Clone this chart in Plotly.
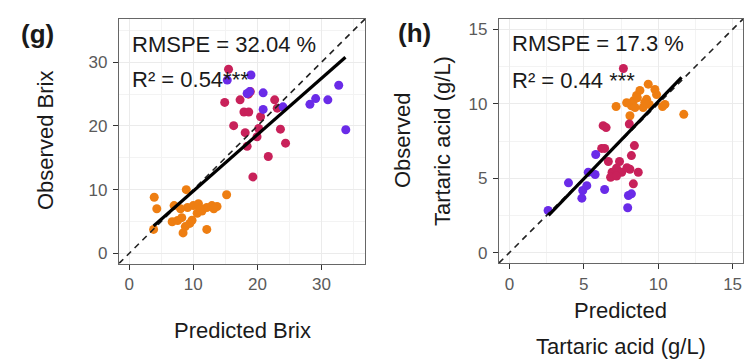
import plotly.graph_objects as go

W, H = 744, 360

# ---------------- Panel (g): Brix ----------------
g_orange_x = [3.8, 4.3, 3.9, 7.0, 8.9, 6.7, 7.55, 8.4, 8.75, 9.45, 9.1, 10.0, 10.8, 11.35, 12.1, 12.9, 13.7, 12.1, 15.2, 8.2, 10.6, 9.8, 8.0, 11.1, 13.2]
g_orange_y = [3.75, 7.0, 8.8, 7.5, 10.0, 4.95, 5.15, 3.2, 4.2, 4.7, 7.2, 7.5, 7.8, 6.65, 7.2, 7.5, 7.35, 3.75, 9.2, 5.6, 6.3, 5.2, 7.0, 7.0, 7.0]
g_red_x = [15.5, 14.9, 17.3, 18.9, 17.9, 18.65, 16.3, 18.1, 18.4, 19.95, 20.5, 19.3, 21.7, 23.6, 24.4, 22.7, 23.1, 20.2, 18.6]
g_red_y = [28.9, 23.7, 24.1, 25.4, 22.2, 22.2, 20.05, 18.95, 16.8, 18.3, 21.45, 12.0, 15.2, 19.5, 17.3, 24.1, 22.8, 19.6, 25.0]
g_purple_x = [15.3, 19.0, 18.4, 18.8, 20.9, 20.9, 24.0, 28.2, 29.1, 31.0, 32.7, 33.8]
g_purple_y = [27.2, 28.0, 25.1, 25.4, 25.2, 22.6, 23.0, 23.4, 24.3, 24.1, 26.4, 19.4]
g_fit_x = [3.8, 33.75]
g_fit_y = [4.3, 30.8]
g_range = [-1.6, 36.8]
g_ticks = [0, 10, 20, 30]
g_minor = [5, 15, 25, 35]

# ---------------- Panel (h): Tartaric acid ----------------
h_orange_x = [7.17, 8.1, 8.2, 8.33, 8.55, 8.77, 8.44, 8.99, 9.33, 9.78, 9.89, 9.22, 9.4, 10.29, 10.45, 11.72, 7.88, 8.6, 9.1]
h_orange_y = [9.82, 9.2, 9.87, 10.2, 10.56, 10.9, 9.75, 9.75, 11.32, 10.96, 10.62, 10.3, 9.96, 9.82, 9.96, 9.29, 10.07, 10.4, 10.1]
h_red_x = [7.66, 6.3, 6.5, 8.06, 6.2, 6.4, 8.4, 6.65, 7.4, 8.2, 6.9, 7.2, 7.55, 6.8, 7.2, 8.1, 8.66, 8.33, 7.9]
h_red_y = [12.37, 8.53, 8.4, 8.64, 7.0, 7.0, 7.19, 6.12, 6.12, 6.52, 5.4, 5.67, 5.4, 5.06, 5.15, 5.6, 5.4, 4.62, 5.7]
h_purple_x = [2.6, 3.97, 4.93, 4.87, 5.2, 5.3, 5.76, 5.8, 6.4, 7.95, 8.0, 8.2]
h_purple_y = [2.83, 4.69, 4.17, 3.66, 4.5, 5.4, 5.25, 6.59, 4.24, 3.01, 3.84, 3.95]
h_fit_x = [2.63, 11.57]
h_fit_y = [2.5, 11.77]
h_range = [-0.7, 15.7]
h_ticks = [0, 5, 10, 15]
h_minor = [2.5, 7.5, 12.5]

ORANGE = "#EE7E12"
RED = "#C8215A"
PURPLE = "#6A2BE8"
FONT = "Liberation Sans, Arial, sans-serif"

fig = go.Figure()


def add_panel(xa, ya, ox, oy, rx, ry, px, py, fx, fy, rng):
    for xs, ys, c in [(ox, oy, ORANGE), (rx, ry, RED), (px, py, PURPLE)]:
        fig.add_trace(go.Scatter(x=xs, y=ys, mode="markers", xaxis=xa, yaxis=ya,
                                 marker=dict(color=c, size=9, line=dict(width=0)),
                                 showlegend=False))
    fig.add_trace(go.Scatter(x=rng, y=rng, mode="lines", xaxis=xa, yaxis=ya,
                             line=dict(color="#222", width=1.6, dash="6px,5px"),
                             showlegend=False))
    fig.add_trace(go.Scatter(x=fx, y=fy, mode="lines", xaxis=xa, yaxis=ya,
                             line=dict(color="black", width=3.2), showlegend=False))


add_panel("x", "y", g_orange_x, g_orange_y, g_red_x, g_red_y, g_purple_x, g_purple_y, g_fit_x, g_fit_y, g_range)
add_panel("x2", "y2", h_orange_x, h_orange_y, h_red_x, h_red_y, h_purple_x, h_purple_y, h_fit_x, h_fit_y, h_range)


def axis(rng, ticks, minor, domain, anchor, standoff=0, fsize=17):
    return dict(range=rng, domain=domain, anchor=anchor, tickvals=ticks,
                showgrid=True, gridcolor="#ebebeb", gridwidth=1,
                minor=dict(tickvals=minor, showgrid=True, gridcolor="#f3f3f3", gridwidth=0.8, ticks=""),
                ticks="outside", ticklen=5, tickwidth=1.2, tickcolor="#333",
                ticklabelstandoff=standoff, ticklabeloverflow="allow",
                tickfont=dict(family=FONT, size=fsize, color="#5a5a5a"),
                showline=True, linecolor="#666", linewidth=1.3, mirror=True,
                zeroline=False, fixedrange=True)


def px2x(p):
    return p / W


def px2y(p):
    return 1 - p / H


fig.update_layout(
    width=W, height=H, autosize=False,
    margin=dict(l=0, r=0, t=0, b=0),
    paper_bgcolor="white", plot_bgcolor="white",
    hovermode=False,
    xaxis=axis(g_range, g_ticks, g_minor, [px2x(119), px2x(365)], "y", 0),
    yaxis=axis(g_range, g_ticks, g_minor, [px2y(263.5), px2y(19)], "x", 2),
    xaxis2=axis(h_range, h_ticks, h_minor, [px2x(499), px2x(743)], "y2", 0),
    yaxis2=axis(h_range, h_ticks, h_minor, [px2y(263), px2y(19)], "x2", 2),
)


def ann(text, x, y, size=22, angle=0, xanchor="center", color="#1a1a1a", bold=False):
    if bold:
        text = "<b>" + text + "</b>"
    fig.add_annotation(text=text, x=px2x(x), y=px2y(y), xref="paper", yref="paper",
                       showarrow=False, textangle=angle, xanchor=xanchor, yanchor="middle",
                       font=dict(family=FONT, size=size, color=color))


ann("(g)", 37, 34, size=26, bold=True)
ann("(h)", 415, 33, size=26, bold=True)
ann("Observed Brix", 46, 141, angle=-90)
ann("Observed", 403, 141, angle=-90)
ann("Tartaric acid (g/L)", 443, 141, angle=-90)
ann("Predicted Brix", 242, 330)
ann("Predicted", 620, 310)
ann("Tartaric acid (g/L)", 621, 346)
ann("RMSPE = 32.04 %", 130, 44, xanchor="left")
ann("R² = 0.54***", 130, 79, xanchor="left")
ann("RMSPE = 17.3 %", 510, 43, xanchor="left")
ann("R² = 0.44 ***", 510, 80, xanchor="left")

fig.write_html("out.html", config={"displayModeBar": False},
               post_script="document.body.style.margin='0';document.body.style.overflow='hidden';")
